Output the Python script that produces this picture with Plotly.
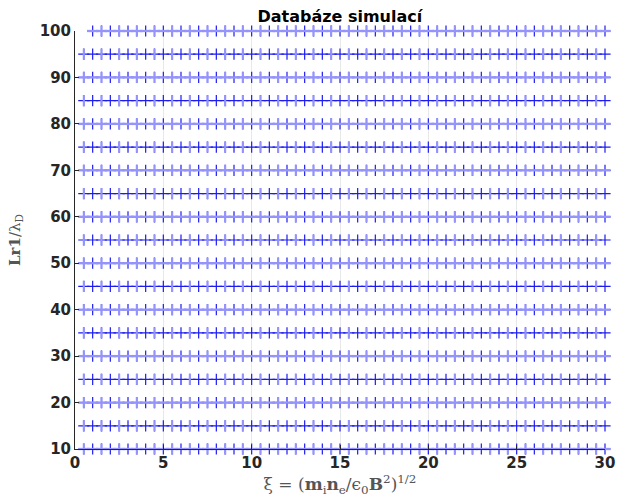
import plotly.graph_objects as go

# ---- data ----
L_values = [10, 15, 20, 25, 30, 35, 40, 45, 50, 55, 60, 65, 70, 75, 80, 85, 90, 95, 100]
xi_values = [0.5, 1.0, 1.5, 2.0, 2.5, 3.0, 3.5, 4.0, 4.5, 5.0,
             5.5, 6.0, 6.5, 7.0, 7.5, 8.0, 8.5, 9.0, 9.5, 10.0,
             10.5, 11.0, 11.5, 12.0, 12.5, 13.0, 13.5, 14.0, 14.5, 15.0,
             15.5, 16.0, 16.5, 17.0, 17.5, 18.0, 18.5, 19.0, 19.5, 20.0,
             20.5, 21.0, 21.5, 22.0, 22.5, 23.0, 23.5, 24.0, 24.5, 25.0,
             25.5, 26.0, 26.5, 27.0, 27.5, 28.0, 28.5, 29.0, 29.5, 30.0]
xi_row100 = xi_values[1:]          # the top row starts at xi = 1
x_ticks = [0, 5, 10, 15, 20, 25, 30]
y_ticks = [10, 20, 30, 40, 50, 60, 70, 80, 90, 100]

DARK = "#1c1cf0"
LIGHT = "#9494fa"

# build point sets
all_x, all_y = [], []
half_x, half_y = [], []
band_x, band_y = [], []
for L in L_values:
    xs = xi_row100 if L == 100 else xi_values
    for xv in xs:
        all_x.append(xv); all_y.append(L)
        if abs(xv % 1 - 0.5) < 1e-9:
            half_x.append(xv); half_y.append(L)
        if L % 10 == 0:
            band_x.append(xv); band_y.append(L)

fig = go.Figure()
fig.add_trace(go.Scatter(
    x=all_x, y=all_y, mode="markers", cliponaxis=False, showlegend=False,
    marker=dict(symbol="cross-thin", size=8, line=dict(color=DARK, width=1.2))))
fig.add_trace(go.Scatter(
    x=half_x, y=half_y, mode="markers", cliponaxis=False, showlegend=False,
    marker=dict(symbol="line-ns", size=8, line=dict(color=LIGHT, width=2.1))))
fig.add_trace(go.Scatter(
    x=band_x, y=band_y, mode="markers", cliponaxis=False, showlegend=False,
    marker=dict(symbol="line-ew", size=8, line=dict(color=LIGHT, width=2.3))))

axis_font = dict(family="DejaVu Sans", size=15, color="#262626", weight="bold")
fig.update_layout(
    width=619, height=497,
    margin=dict(l=75, r=14, t=31, b=48),
    paper_bgcolor="white", plot_bgcolor="white",
    title=dict(text="<b>Databáze simulací</b>", x=0.549, xanchor="center",
               y=0.968, yanchor="middle",
               font=dict(family="DejaVu Sans", size=16, color="black")),
    xaxis=dict(range=[0, 30], tickvals=x_ticks, ticktext=[str(v) for v in x_ticks],
               automargin=False,
               showgrid=True, gridcolor="#e8e8e8", zeroline=False,
               showline=True, linecolor="#262626", linewidth=1,
               ticks="inside", ticklen=4, tickcolor="#262626",
               tickfont=axis_font,
               title=dict(text="ξ = (<b>m</b><sub>i</sub><b>n</b><sub>e</sub>/ϵ<sub>0</sub><b>B</b><sup>2</sup>)<sup>1/2</sup>",
                          font=dict(family="DejaVu Serif", size=17, color="#555555"))),
    yaxis=dict(range=[10, 100], tickvals=y_ticks, ticktext=[str(v) for v in y_ticks],
               automargin=False,
               showgrid=True, gridcolor="#e8e8e8", zeroline=False,
               showline=True, linecolor="#262626", linewidth=1,
               ticks="inside", ticklen=4, tickcolor="#262626",
               tickfont=axis_font,
               title=dict(text="<b>Lr1</b>/λ<sub>D</sub>",
                          font=dict(family="DejaVu Serif", size=15, color="#555555"))),
)

fig.write_html("out.html", config={"displayModeBar": False},
               post_script="document.body.style.margin='0px';")
